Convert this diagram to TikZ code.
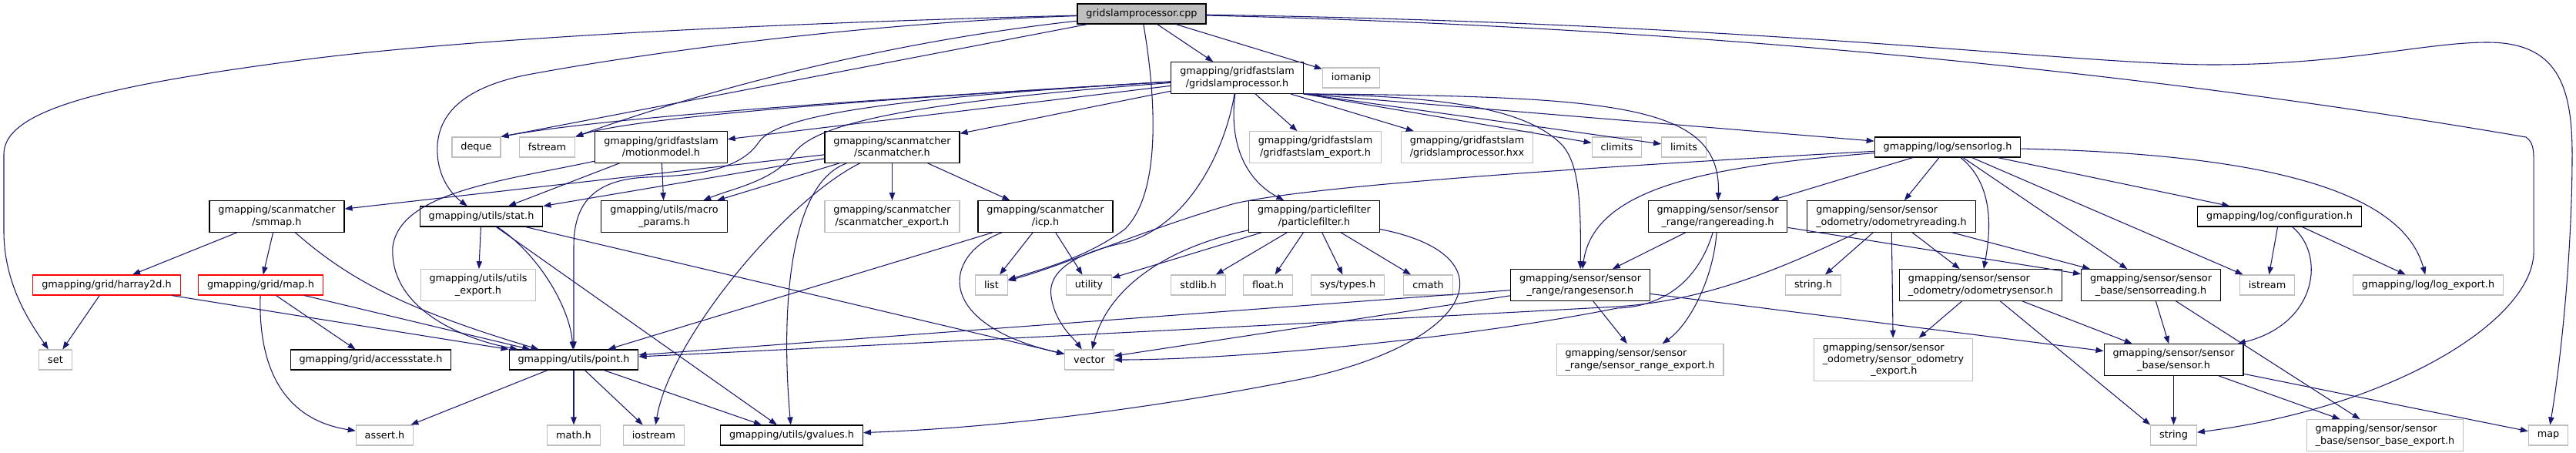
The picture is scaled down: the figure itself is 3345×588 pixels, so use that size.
\documentclass[tikz,border=0pt]{standalone}
\usepackage{fontspec}
\setmainfont{DejaVu Sans}
\usepackage{tikz}
\usetikzlibrary{arrows.meta}
\definecolor{edgeblue}{HTML}{191970}
\definecolor{greyline}{HTML}{BFBFBF}

\begin{document}
\begin{tikzpicture}
          [x=0.75pt, y=-0.75pt,
           every node/.style={draw, line width=0.8pt, align=center,
             font=\fontsize{9.6}{11.5}\selectfont,
             inner xsep=8.6pt, inner ysep=1pt, minimum height=19.5pt},
           doc/.style={draw=black},
           sys/.style={draw=greyline},
           part/.style={draw=red},
           cur/.style={draw=black, fill=greyline},
           two/.style={minimum height=30.5pt},
           three/.style={minimum height=41.6pt},
           dep/.style={draw=edgeblue, line width=0.8pt,
             -{Triangle[length=7.5pt, width=5.5pt]}}]
          \path[use as bounding box, fill=white] (0,0) rectangle (3345,588);

          \node (root) [cur] at (1482.5,18) {gridslamprocessor.cpp};
          \node (gsp) [doc, two] at (1606.5,101) {gmapping/gridfastslam\\/gridslamprocessor.h};
          \node (iomanip) [sys] at (1754.5,101) {iomanip};

          \node (deque) [sys] at (618.5,191) {deque};
          \node (fstream) [sys] at (710.5,191) {fstream};
          \node (motionmodel) [doc, two] at (858.5,191) {gmapping/gridfastslam\\/motionmodel.h};
          \node (scanmatcher) [doc, two] at (1158.5,191) {gmapping/scanmatcher\\/scanmatcher.h};
          \node (gfsexport) [sys, two] at (1708,191) {gmapping/gridfastslam\\/gridfastslam\_export.h};
          \node (hxx) [sys, two] at (1905,191) {gmapping/gridfastslam\\/gridslamprocessor.hxx};
          \node (climits) [sys] at (2099.5,191) {climits};
          \node (limits) [sys] at (2186.5,191) {limits};
          \node (sensorlog) [doc] at (2529,191) {gmapping/log/sensorlog.h};

          \node (smmap) [doc, two] at (359.5,281) {gmapping/scanmatcher\\/smmap.h};
          \node (stat) [doc] at (625,281) {gmapping/utils/stat.h};
          \node (macro) [doc, two] at (862.5,281) {gmapping/utils/macro\\\_params.h};
          \node (smexport) [sys, two] at (1158.5,281) {gmapping/scanmatcher\\/scanmatcher\_export.h};
          \node (icp) [doc, two] at (1357.5,281) {gmapping/scanmatcher\\/icp.h};
          \node (pfilter) [doc, two] at (1706.5,281) {gmapping/particlefilter\\/particlefilter.h};
          \node (rangereading) [doc, two] at (2230.5,281) {gmapping/sensor/sensor\\\_range/rangereading.h};
          \node (odomreading) [doc, two, align=left] at (2456,281) {gmapping/sensor/sensor\\\_odometry/odometryreading.h};
          \node (config) [doc] at (2960,281) {gmapping/log/configuration.h};

          \node (harray) [part] at (138.5,370) {gmapping/grid/harray2d.h};
          \node (mapgrid) [part] at (338.5,370) {gmapping/grid/map.h};
          \node (utilsexport) [sys, two] at (621,370) {gmapping/utils/utils\\\_export.h};
          \node (list) [sys] at (1287.5,370) {list};
          \node (utility) [sys] at (1414,370) {utility};
          \node (stdlib) [sys] at (1556,370) {stdlib.h};
          \node (float) [sys] at (1646.5,370) {float.h};
          \node (systypes) [sys] at (1750,370) {sys/types.h};
          \node (cmath) [sys] at (1854.5,370) {cmath};
          \node (rangesensor) [doc, two] at (2052,370) {gmapping/sensor/sensor\\\_range/rangesensor.h};
          \node (stringh) [sys] at (2354.5,370) {string.h};
          \node (odomsensor) [doc, two, align=left] at (2572,370) {gmapping/sensor/sensor\\\_odometry/odometrysensor.h};
          \node (sensorreading) [doc, two] at (2793,370) {gmapping/sensor/sensor\\\_base/sensorreading.h};
          \node (istream) [sys] at (2944,370) {istream};
          \node (logexport) [sys] at (3153,370) {gmapping/log/log\_export.h};

          \node (set) [sys] at (72,467) {set};
          \node (access) [doc] at (481.5,467) {gmapping/grid/accessstate.h};
          \node (point) [doc] at (745,467) {gmapping/utils/point.h};
          \node (vector) [sys] at (1414.5,467) {vector};
          \node (srexport) [sys, two, align=left] at (2129.5,467) {gmapping/sensor/sensor\\\_range/sensor\_range\_export.h};
          \node (soexport) [sys, three, align=left] at (2458.5,467) {gmapping/sensor/sensor\\\_odometry/sensor\_odometry\\\hspace*{47pt}\_export.h};
          \node (sensor) [doc, two] at (2822.5,467) {gmapping/sensor/sensor\\\_base/sensor.h};

          \node (assert) [sys] at (499.5,565) {assert.h};
          \node (math) [sys] at (745,565) {math.h};
          \node (iostream) [sys] at (849,565) {iostream};
          \node (gvalues) [doc] at (1028,565) {gmapping/utils/gvalues.h};
          \node (string) [sys] at (2822.5,565) {string};
          \node (sbexport) [sys, two, align=left] at (3097,565) {gmapping/sensor/sensor\\\_base/sensor\_base\_export.h};
          \node (map) [sys] at (3309,565) {map};

          \draw[dep] (root) .. controls (1000,30) and (600,50) .. (383,79)
            .. controls (150,110) and (5,140) .. (5,200) -- (5,300)
            .. controls (5,370) and (40,420) .. (set);
          \draw[dep] (root) -- (deque.north east);
          \draw[dep] (root) .. controls (1100,60) and (850,140) .. (fstream.north east);
          \draw[dep] (root) .. controls (1100,30) and (800,75) .. (680,98)
            .. controls (600,115) and (565,150) .. (568,200)
            .. controls (570,235) and (590,255) .. (stat);
          \draw[dep] (root) -- (gsp);
          \draw[dep] (root) -- (iomanip);
          \draw[dep] (root) .. controls (1500,120) and (1510,250) .. (1460,298)
            .. controls (1410,335) and (1350,350) .. (list);
          \draw[dep] (root) .. controls (2400,40) and (3000,130) .. (3280,178)
            .. controls (3292,186) and (3290,200) .. (3290,230) -- (3290,330)
            .. controls (3285,420) and (3100,530) .. (string);
          \draw[dep] (root) .. controls (2300,30) and (2700,85) .. (2880,84)
            .. controls (3050,83) and (3150,55) .. (3230,55)
            .. controls (3320,55) and (3340,110) .. (3340,200)
            .. controls (3340,330) and (3325,470) .. (map);

          \draw[dep] (gsp) .. controls (1200,125) and (800,150) .. (deque.north east);
          \draw[dep] (gsp) .. controls (1200,125) and (830,150) .. (fstream.north east);
          \draw[dep] (gsp) -- (motionmodel);
          \draw[dep] (gsp) .. controls (1200,125) and (1010,145) .. (985,185)
            .. controls (960,222) and (900,228) .. (840,230)
            .. controls (770,233) and (745,265) .. (745,320) -- (point);
          \draw[dep] (gsp) .. controls (1150,135) and (1055,165) .. (1030,200)
            .. controls (1005,235) and (950,245) .. (macro);
          \draw[dep] (gsp) -- (scanmatcher);
          \draw[dep] (gsp) .. controls (1590,200) and (1540,295) .. (1460,315)
            .. controls (1390,330) and (1360,355) .. (1365,385)
            .. controls (1370,420) and (1395,440) .. (vector);
          \draw[dep] (gsp) .. controls (1595,190) and (1620,235) .. (pfilter);
          \draw[dep] (gsp) -- (gfsexport);
          \draw[dep] (gsp) -- (hxx);
          \draw[dep] (gsp.south east) -- (climits);
          \draw[dep] (gsp.south east) -- (limits);
          \draw[dep] (gsp.south east) .. controls (1850,125) and (1980,135) .. (2030,190)
            .. controls (2050,215) and (2053,260) .. (rangesensor);
          \draw[dep] (gsp.south east) .. controls (2100,125) and (2235,135) .. (rangereading);
          \draw[dep] (gsp.south east) -- (sensorlog);

          \draw[dep] (motionmodel) .. controls (650,235) and (520,250) .. (510,320)
            .. controls (505,400) and (600,440) .. (point);
          \draw[dep] (motionmodel) -- (stat);
          \draw[dep] (motionmodel) -- (macro);

          \draw[dep] (scanmatcher) -- (smmap);
          \draw[dep] (scanmatcher) -- (stat);
          \draw[dep] (scanmatcher) -- (macro);
          \draw[dep] (scanmatcher) .. controls (1020,260) and (870,440) .. (iostream);
          \draw[dep] (scanmatcher) .. controls (1020,240) and (1015,420) .. (gvalues);
          \draw[dep] (scanmatcher) -- (smexport);
          \draw[dep] (scanmatcher) -- (icp);

          \draw[dep] (smmap) -- (harray);
          \draw[dep] (smmap) -- (mapgrid);
          \draw[dep] (smmap) .. controls (450,360) and (520,400) .. (point);
          \draw[dep] (harray) -- (set);
          \draw[dep] (harray) -- (point);
          \draw[dep] (mapgrid) -- (point);
          \draw[dep] (mapgrid) -- (access);
          \draw[dep] (mapgrid) .. controls (335,480) and (370,545) .. (assert);

          \draw[dep] (stat) -- (utilsexport);
          \draw[dep] (stat) .. controls (700,330) and (740,400) .. (point);
          \draw[dep] (stat) -- (gvalues);
          \draw[dep] (stat) -- (vector);
          \draw[dep] (point) -- (assert);
          \draw[dep] (point) -- (math);
          \draw[dep] (point) -- (iostream);
          \draw[dep] (point) -- (gvalues);

          \draw[dep] (icp) -- (point);
          \draw[dep] (icp) .. controls (1225,330) and (1210,420) .. (vector);
          \draw[dep] (icp) -- (list);
          \draw[dep] (icp) -- (utility);

          \draw[dep] (pfilter) -- (stdlib);
          \draw[dep] (pfilter) -- (float);
          \draw[dep] (pfilter) -- (systypes);
          \draw[dep] (pfilter) -- (cmath);
          \draw[dep] (pfilter) -- (utility);
          \draw[dep] (pfilter) .. controls (1520,320) and (1440,370) .. (vector);
          \draw[dep] (pfilter) .. controls (1960,330) and (1920,440) .. (1700,490)
            .. controls (1500,530) and (1300,555) .. (gvalues);

          \draw[dep] (sensorlog) .. controls (2100,215) and (1700,240) .. (1600,265)
            .. controls (1480,300) and (1380,345) .. (list);
          \draw[dep] (sensorlog) .. controls (2230,215) and (2070,240) .. (rangesensor);
          \draw[dep] (sensorlog) -- (rangereading);
          \draw[dep] (sensorlog) -- (odomreading);
          \draw[dep] (sensorlog) .. controls (2590,240) and (2585,300) .. (odomsensor);
          \draw[dep] (sensorlog) -- (sensorreading);
          \draw[dep] (sensorlog) -- (istream);
          \draw[dep] (sensorlog) -- (config);
          \draw[dep] (sensorlog) .. controls (2950,200) and (3120,250) .. (logexport);

          \draw[dep] (rangereading) -- (rangesensor);
          \draw[dep] (rangereading) .. controls (2225,360) and (2195,420) .. (srexport);
          \draw[dep] (rangereading) .. controls (2205,365) and (2160,398) .. (2100,400)
            .. controls (1900,440) and (1600,467) .. (vector);
          \draw[dep] (rangereading) -- (sensorreading);
          \draw[dep] (rangesensor) -- (point);
          \draw[dep] (rangesensor) -- (vector);
          \draw[dep] (rangesensor) -- (sensor);
          \draw[dep] (rangesensor) -- (srexport);

          \draw[dep] (odomreading) .. controls (2320,345) and (2220,390) .. (2100,398)
            .. controls (1700,420) and (1100,450) .. (point);
          \draw[dep] (odomreading) -- (stringh);
          \draw[dep] (odomreading) -- (soexport);
          \draw[dep] (odomreading) -- (odomsensor);
          \draw[dep] (odomreading) -- (sensorreading);
          \draw[dep] (odomsensor) -- (soexport);
          \draw[dep] (odomsensor) -- (string.north west);
          \draw[dep] (odomsensor) -- (sensor);

          \draw[dep] (sensorreading) -- (sensor);
          \draw[dep] (sensorreading) -- (sbexport);
          \draw[dep] (config) -- (istream);
          \draw[dep] (config) .. controls (3020,330) and (3010,420) .. (sensor);
          \draw[dep] (config) -- (logexport);
          \draw[dep] (sensor) -- (string);
          \draw[dep] (sensor) -- (sbexport);
          \draw[dep] (sensor) -- (map);
        \end{tikzpicture}
\end{document}
